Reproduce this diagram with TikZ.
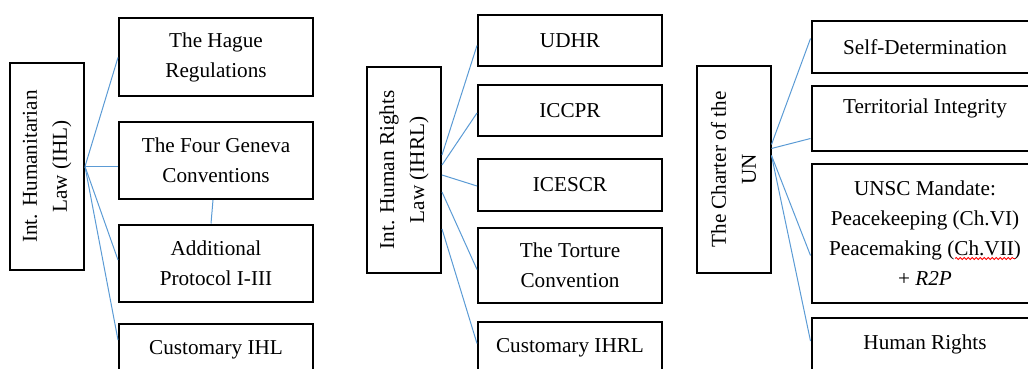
\documentclass[tikz,border=0pt]{standalone}
\usepackage{fontspec}
\setmainfont{Liberation Serif}
\usepackage{xcolor}
\usepackage{tikz}
\usetikzlibrary{calc,positioning,decorations.pathmorphing}
\definecolor{linkblue}{RGB}{91,155,213}
\tikzset{
  headbox/.style={draw=black,line width=1pt,rotate=90,align=center,
    minimum width=103pt,minimum height=37pt,inner sep=2pt},
  itembox/.style={draw=black,line width=1pt,align=center,inner sep=2pt},
  node distance=6pt
}

\begin{document}
\begin{tikzpicture}[x=0.5pt,y=-0.5pt,
    font=\fontsize{10.6}{15}\selectfont]
  \useasboundingbox (0,0) rectangle (1028,369);
          \begin{scope}
              % IHL
              \node[headbox] (ihl) at (47,166.5) {Int. Humanitarian\\Law (IHL)};
              \node[itembox,minimum width=97pt,minimum height=39pt] (hague) at (216,57.5) {The Hague\\Regulations};
              \node[itembox,minimum width=97pt,minimum height=38.5pt] (geneva) [below=11.75pt of hague] {The Four Geneva\\Conventions};
              \node[itembox,minimum width=97pt,minimum height=38.5pt] (addprot) [below=11.75pt of geneva] {Additional\\Protocol I-III};
              \node[itembox,minimum width=97pt,minimum height=28pt,text depth=4.3pt] (custihl) [below=10.25pt of addprot] {Customary IHL};

              % IHRL
              \node[headbox] (ihrl) at (404,170) {Int. Human Rights\\Law (IHRL)};
              \node[itembox,minimum width=92pt,minimum height=25.5pt] (udhr) at (570,40.5) {UDHR};
              \node[itembox,minimum width=92pt,minimum height=25.5pt] (iccpr) [below=8.75pt of udhr] {ICCPR};
              \node[itembox,minimum width=92pt,minimum height=25.5pt] (icescr) [below=10.5pt of iccpr] {ICESCR};
              \node[itembox,minimum width=92pt,minimum height=37.5pt] (torture) [below=7.75pt of icescr] {The Torture\\Convention};
              \node[itembox,minimum width=92pt,minimum height=28pt,text depth=4.3pt] (custihrl) [below=8.25pt of torture] {Customary IHRL};

              % UN Charter
              \node[headbox] (uncharter) at (733.5,169.5) {The Charter of the\\UN};
              \node[itembox,minimum width=113.5pt,minimum height=26pt] (selfdet) at (925,47.5) {Self-Determination};
              \node[itembox,minimum width=113.5pt,minimum height=32.5pt,text depth=12.5pt] (territorial) [below=5.25pt of selfdet] {Territorial Integrity};
              \node[itembox,minimum width=113.5pt,minimum height=69.5pt] (unsc) [below=5.5pt of territorial] {UNSC Mandate:\\Peacekeeping (Ch.VI)\\Peacemaking (Ch.VII)\\+ \textit{R2P}};
              \node[itembox,minimum width=113.5pt,minimum height=28pt,text depth=4.3pt] (humanrights) [below=6.5pt of unsc] {Human Rights};
          \end{scope}

          % head boxes are turned by 90 degrees: their right side is .south
          \begin{scope}[every edge/.style={draw=linkblue,line width=0.5pt}]
              \path (ihl.south) edge (hague.west);
              \path (ihl.south) edge ($(geneva.west)+(0,6)$);
              \path (ihl.south) edge ($(addprot.west)+(0,-3)$);
              \path (ihl.south) edge ($(custihl.west)+(0,-12)$);
              \path ($(geneva.south)+(-3,0)$) edge ($(addprot.north)+(-5,0)$);

              \path ($(ihrl.south)+(0,-15)$) edge ($(udhr.west)+(0,5)$);
              \path ($(ihrl.south)+(0,-5)$) edge ($(iccpr.west)+(0,2)$);
              \path ($(ihrl.south)+(0,5)$) edge ($(icescr.west)+(0,1)$);
              \path ($(ihrl.south)+(0,22)$) edge ($(torture.west)+(0,4)$);
              \path ($(ihrl.south)+(0,59)$) edge ($(custihrl.west)+(0,-6)$);

              \path ($(uncharter.south)+(0,-25)$) edge ($(selfdet.west)+(0,-9)$);
              \path ($(uncharter.south)+(0,-21)$) edge ($(territorial.west)+(0,20)$);
              \path ($(uncharter.south)+(0,-14)$) edge ($(unsc.west)+(0,22)$);
              \path ($(uncharter.south)+(0,-14)$) edge ($(humanrights.west)+(0,-5)$);
          \end{scope}

          % spell-check squiggle
          \draw[red,line width=0.4pt,decorate,decoration={snake,amplitude=0.5pt,segment length=2pt}]
            ($(unsc.center)+(30,25)$) -- ($(unsc.center)+(90,25)$);
\end{tikzpicture}
\end{document}
